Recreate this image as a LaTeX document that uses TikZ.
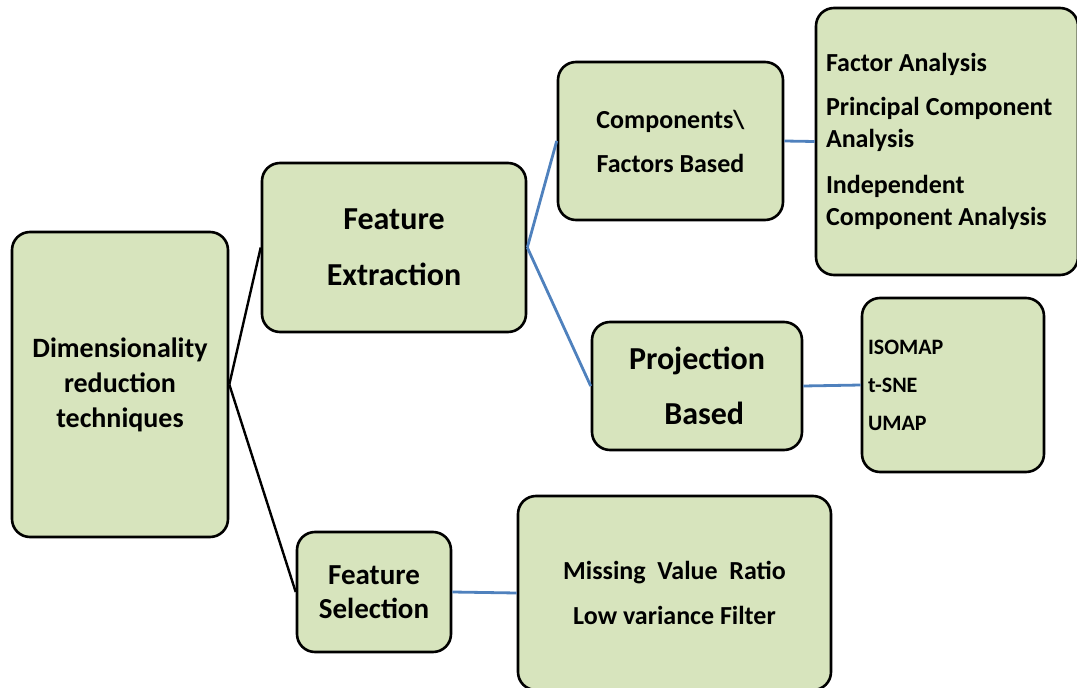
\documentclass[tikz,border=0pt]{standalone}
\usepackage{fontspec}
\setmainfont{Carlito}
\usepackage{xcolor}
\usetikzlibrary{positioning}
\definecolor{boxcol}{HTML}{D7E4BD}
\definecolor{linkcol}{HTML}{4F81BD}

\newcommand{\fsz}[2]{\fontsize{#1}{#2}\selectfont\bfseries}

\begin{document}
\begin{tikzpicture}[x=1pt, y=-1pt,
  term/.style={draw, line width=2.6pt, rounded corners=18pt, fill=boxcol,
               align=center, inner sep=0pt},
  link/.style={line width=2.4pt, black},
  blink/.style={line width=2.8pt, linkcol}]
  \useasboundingbox (0,0) rectangle (1077,688);
  \node[term, minimum width=216pt, minimum height=305pt, font=\fsz{28}{35}]
    (dim) at (120,384.5) {Dimensionality\\reduction\\techniques};
  \node[term, minimum width=264pt, minimum height=169pt, font=\fsz{32}{56}]
    (fext) at (394,247.5) {Feature\\Extraction};
  \node[term, minimum width=154pt, minimum height=120pt, font=\fsz{29}{34}]
    (fsel) at (374,592) {Feature\\Selection};
  \node[term, minimum width=225pt, minimum height=158pt, font=\fsz{26}{44}]
    (comp) at (670.5,141) {Components\textbackslash\\Factors Based};
  \node[term, minimum width=210pt, minimum height=128pt, font=\fsz{32}{55}]
    (proj) at (697,386) {Projection\\\ \ Based};
  \node[term, minimum width=262pt, minimum height=267pt, font=\fsz{26}{32},
        align=flush left, text width=242pt]
    (fact) at (947,141.5) {Factor Analysis\\[12pt]Principal Component\\Analysis\\[14pt]Independent\\Component Analysis};
  \node[term, minimum width=182pt, minimum height=174pt, font=\fsz{22}{38},
        align=flush left, text width=170pt]
    (iso) at (953,385) {ISOMAP\\t-SNE\\UMAP};
  \node[term, minimum width=313pt, minimum height=194pt, font=\fsz{26}{45}]
    (filt) at (674.5,593) {Missing\ \ Value\ \ Ratio\\Low variance Filter};
  % tree edges
  \draw[link] (dim.east) -- (fext.west);
  \draw[link] (dim.east) -- (fsel.west);
  \draw[blink] (fext.east) -- (comp.west);
  \draw[blink] (fext.east) -- (proj.west);
  \draw[blink] (comp.east) -- (fact.west);
  \draw[blink] (proj.east) -- (iso.west);
  \draw[blink] (fsel.east) -- (filt.west);
\end{tikzpicture}
\end{document}
